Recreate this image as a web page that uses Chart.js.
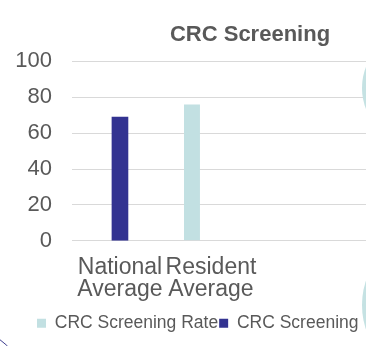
<!DOCTYPE html>
<html>
<head>
<meta charset="utf-8">
<script src="https://cdn.jsdelivr.net/npm/chart.js@4/dist/chart.umd.min.js"></script>
<style>
  html, body { margin: 0; padding: 0; background: #fff; overflow: hidden; }
  #wrap { position: relative; width: 500px; height: 346px; }
  .blob { position: absolute; border-radius: 50%; background: #c5e2e3; }
  .ring { position: absolute; border-radius: 50%; border: 1.5px solid #3d3d8f; }
</style>
</head>
<body>
<div id="wrap">
  <canvas id="crcChart"></canvas>
  <div class="blob" style="left:362px; top:30px; width:116px; height:116px;"></div>
  <div class="blob" style="left:362px; top:227px; width:156px; height:156px;"></div>
  <div class="ring" style="left:-80px; top:330px; width:100px; height:100px;"></div>
</div>
<script>
const categories = ["National Average", "Resident Average"];
const rateValues = [null, 76];      // CRC Screening Rate
const screeningValues = [69, null]; // CRC Screening
const yTicks = [0, 20, 40, 60, 80, 100];

const textColor = "#595959";
Chart.defaults.font.family = "'Liberation Sans', Arial, sans-serif";
Chart.defaults.color = textColor;

// bars sit on a numeric index axis so the plot can run past the category slots
function toPoints(values) {
  return values.map((v, i) => ({ x: i, y: v }));
}

// nudge the legend row right, like the original slide
const legendShift = {
  id: "legendShift",
  afterLayout(chart) {
    chart.legend.left += 36;
  },
};

const ctx = document.getElementById("crcChart").getContext("2d");

new Chart(ctx, {
  type: "bar",
  data: {
    datasets: [
      {
        label: "CRC Screening Rate",
        data: toPoints(rateValues),
        backgroundColor: "#c2e0e2",
        categoryPercentage: 0.835,
        barPercentage: 0.42,
      },
      {
        label: "CRC Screening",
        data: toPoints(screeningValues),
        backgroundColor: "#333391",
        barThickness: 16,
        skipNull: true,
      },
    ],
  },
  plugins: [legendShift],
  options: {
    responsive: true,
    maintainAspectRatio: false,
    animation: false,
    layout: { padding: { left: 0, right: 0, top: 0, bottom: 4 } },
    plugins: {
      title: {
        display: true,
        text: "CRC Screening",
        color: textColor,
        font: { size: 22, weight: "bold" },
        padding: { top: 22, bottom: 13 },
      },
      legend: {
        position: "bottom",
        align: "start",
        labels: {
          boxWidth: 9,
          boxHeight: 9,
          padding: 1,
          color: textColor,
          font: { size: 17.5 },
        },
      },
      tooltip: { enabled: false },
    },
    scales: {
      x: {
        type: "linear",
        offset: false,
        min: -0.527,
        max: 4.176,
        grid: { display: false },
        border: { display: false },
        afterBuildTicks: (axis) => {
          axis.ticks = categories.map((_, i) => ({ value: i }));
        },
        afterFit: (axis) => {
          axis.height += 5;
        },
        ticks: {
          padding: 8,
          maxRotation: 0,
          autoSkip: false,
          color: textColor,
          font: { size: 23, lineHeight: 0.95 },
          callback: (value) => (categories[value] || "").split(" "),
        },
      },
      y: {
        min: 0,
        max: 100,
        afterBuildTicks: (axis) => {
          axis.ticks = yTicks.map((v) => ({ value: v }));
        },
        afterFit: (axis) => {
          axis.width = 72;
        },
        grid: { color: "#d9d9d9", drawTicks: false, lineWidth: 1 },
        border: { display: false },
        ticks: {
          padding: 20,
          color: textColor,
          font: { size: 22 },
        },
      },
    },
  },
});
</script>
</body>
</html>
